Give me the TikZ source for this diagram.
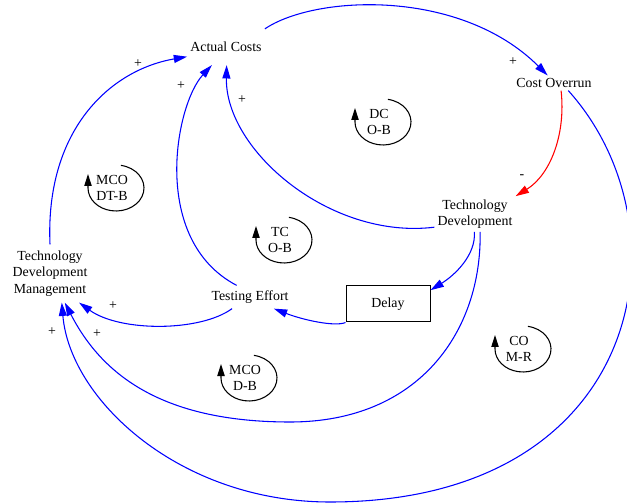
\documentclass[tikz,border=0pt]{standalone}
\usepackage{fontspec}
\setmainfont{Liberation Serif}
\usetikzlibrary{arrows.meta}
\begin{document}
\begin{tikzpicture}[x=0.75pt,y=0.75pt,font=\fontsize{10.4}{12.4}\selectfont,
  link/.style={draw=blue,line width=0.8pt,-{Triangle[length=10pt,width=6pt]}},
  loopline/.style={black,line width=0.8pt,-{Triangle[length=9pt,width=5.5pt]}},
  looptext/.style={align=center}]
  \useasboundingbox (0,0) rectangle (627,503);
  % variables
  \node[inner xsep=2.25pt,inner ysep=9.75pt] (ac) at (226,456) {Actual Costs};
  \node[inner sep=2pt] (co) at (554,420) {Cost Overrun};
  \node[align=center,inner sep=2.25pt] (td) at (475,289) {Technology\\Development};
  \node[align=center,inner xsep=2.25pt,inner ysep=4.5pt] (tdm) at (50,229.5) {Technology\\Development\\Management};
  \node[inner xsep=1.5pt,inner ysep=3.75pt] (te) at (250,206) {Testing Effort};
  \node[draw,line width=0.75pt,minimum width=63pt,minimum height=27pt] (delay) at (388,199) {Delay};
  % links
  \draw[link] (ac.north east) .. controls (315,508) and (460,515) .. (co.130);
  \draw[link,red] (co.-47) .. controls (566,368) and (550,328) .. (td.north east);
  \draw[link] (co.-28) .. controls (692,275) and (645,1) .. (330,1) .. controls (180,1) and (70,103) .. (tdm.-68);
  \draw[link] (td.198) .. controls (330,263) and (225,353) .. (ac.-88);
  \draw[link] (td.-92) .. controls (476,248) and (455,228) .. (delay.18);
  \draw[link] (td.-74) .. controls (482,173) and (420,81) .. (290,81) .. controls (160,81) and (101,130) .. (tdm.-63);
  \draw[link] (delay.south west) .. controls (335,176) and (303,183) .. (te.-26);
  \draw[link] (te.-147) .. controls (200,171) and (120,171) .. (tdm.-45);
  \draw[link] (te.139) .. controls (150,263) and (175,398) .. (ac.232);
  \draw[link] (tdm.north) .. controls (45,373) and (110,433) .. (ac.194);
  % polarities
  \node (plus1) at (138,439) {+};
  \node (plus2) at (181,417) {+};
  \node (plus3) at (242,403) {+};
  \node (plus4) at (513,441) {+};
  \node (minus1) at (522,326) {-};
  \node (plus5) at (113,197) {+};
  \node (plus6) at (52,171) {+};
  \node (plus7) at (97,169) {+};
  % loop markers
  \node[looptext] (dcob) at (379,381) {DC\\O-B};
  \draw[loopline] (dcob.center) ++(4,0) ++(80:28 and 23) arc[start angle=80,end angle=-180,x radius=28,y radius=23] -- ++(0,14);
  \node[looptext] (mcodtb) at (112,315) {MCO\\DT-B};
  \draw[loopline] (mcodtb.center) ++(4,0) ++(80:28 and 23) arc[start angle=80,end angle=-180,x radius=28,y radius=23] -- ++(0,14);
  \node[looptext] (tcob) at (280,263) {TC\\O-B};
  \draw[loopline] (tcob.center) ++(4,0) ++(80:28 and 23) arc[start angle=80,end angle=-180,x radius=28,y radius=23] -- ++(0,14);
  \node[looptext] (mcodb) at (245,125) {MCO\\D-B};
  \draw[loopline] (mcodb.center) ++(4,0) ++(80:28 and 23) arc[start angle=80,end angle=-180,x radius=28,y radius=23] -- ++(0,14);
  \node[looptext] (comr) at (519,154) {CO\\M-R};
  \draw[loopline] (comr.center) ++(4,0) ++(80:28 and 23) arc[start angle=80,end angle=-180,x radius=28,y radius=23] -- ++(0,14);
\end{tikzpicture}
\end{document}
